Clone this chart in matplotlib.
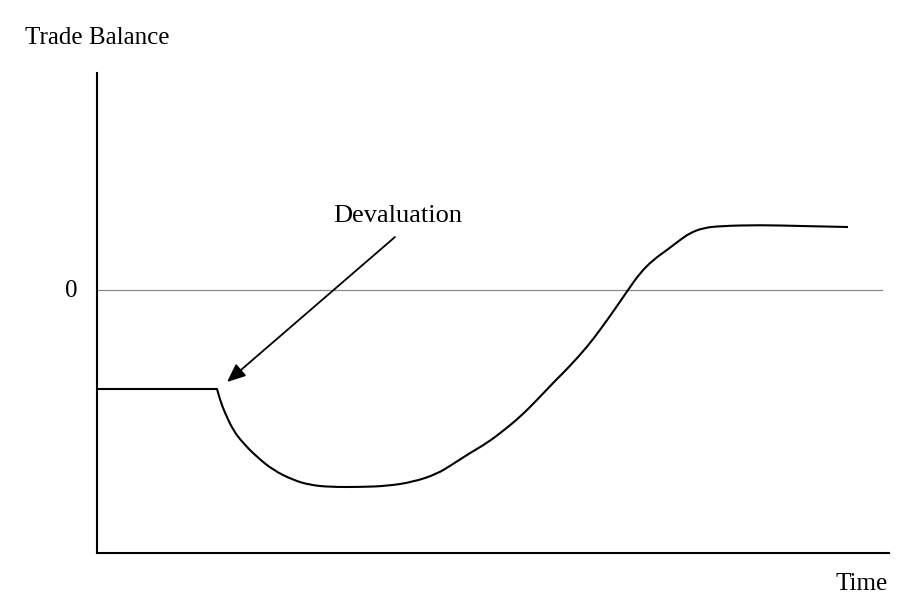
import matplotlib
matplotlib.use("Agg")
import matplotlib.pyplot as plt
from matplotlib.path import Path
from matplotlib.patches import PathPatch

# J-curve data (time in arbitrary units, trade balance in arbitrary units)
time = [0.00, 1.20, 1.23, 1.28, 1.36, 1.46, 1.60, 1.76, 1.96, 2.13, 2.33, 2.63,
        2.90, 3.16, 3.40, 3.56, 3.73, 3.90, 4.06, 4.23, 4.40, 4.56, 4.73, 4.90,
        5.03, 5.18, 5.31, 5.43, 5.56, 5.70, 5.83, 5.93, 6.06, 6.23, 6.63, 7.03,
        7.51]
balance = [-0.99, -0.99, -1.10, -1.23, -1.40, -1.53, -1.67, -1.80, -1.90, -1.95,
           -1.97, -1.97, -1.96, -1.92, -1.84, -1.74, -1.63, -1.53, -1.41, -1.27,
           -1.10, -0.93, -0.76, -0.57, -0.40, -0.19, 0.00, 0.17, 0.30, 0.40,
           0.50, 0.57, 0.62, 0.64, 0.65, 0.64, 0.63]

zero_line_end = 7.85
devaluation_point = (1.30, -0.92)
label_anchor = (2.98, 0.53)

serif = "Liberation Serif"

fig = plt.figure(figsize=(9.02, 6.07), dpi=100)
ax = fig.add_axes([97 / 902, 54 / 607, 792 / 902, 480 / 607])
ax.set_xlim(0, 7.92)
ax.set_ylim(-2.63, 2.17)

for s in ["top", "right"]:
    ax.spines[s].set_visible(False)
for s in ["left", "bottom"]:
    ax.spines[s].set_linewidth(1.5)
    ax.spines[s].set_color("black")
ax.set_xticks([])
ax.set_yticks([])

ax.plot([0, zero_line_end], [0, 0], color="#8a8a8a", lw=0.9, zorder=1)

# flat segment before devaluation, then smooth curve (quadratic B-spline style)
pts = list(zip(time, balance))
verts = [pts[0], pts[1]]
codes = [Path.MOVETO, Path.LINETO]
curve = pts[1:]
for i in range(1, len(curve) - 1):
    p, q = curve[i], curve[i + 1]
    end = q if i == len(curve) - 2 else ((p[0] + q[0]) / 2, (p[1] + q[1]) / 2)
    verts += [p, end]
    codes += [Path.CURVE3, Path.CURVE3]
ax.add_patch(PathPatch(Path(verts, codes), facecolor="none", edgecolor="black",
                       lw=1.5, joinstyle="round", zorder=2))

ax.annotate("", xy=devaluation_point, xytext=label_anchor,
            arrowprops=dict(arrowstyle="-|>,head_length=0.7,head_width=0.3",
                            color="black", lw=1.3, mutation_scale=16,
                            shrinkA=0, shrinkB=0))

ax.text(3.01, 0.74, "Devaluation", family=serif, fontsize=19,
        ha="center", va="center")

fig.text(25 / 902, 1 - 38 / 607, "Trade Balance", family=serif, fontsize=18,
         ha="left", va="center")
fig.text(77 / 902, 1 - 291 / 607, "0", family=serif, fontsize=18,
         ha="right", va="center")
fig.text(888 / 902, 1 - 584 / 607, "Time", family=serif, fontsize=18,
         ha="right", va="center")

fig.savefig("out.png", dpi=100, facecolor="white")
